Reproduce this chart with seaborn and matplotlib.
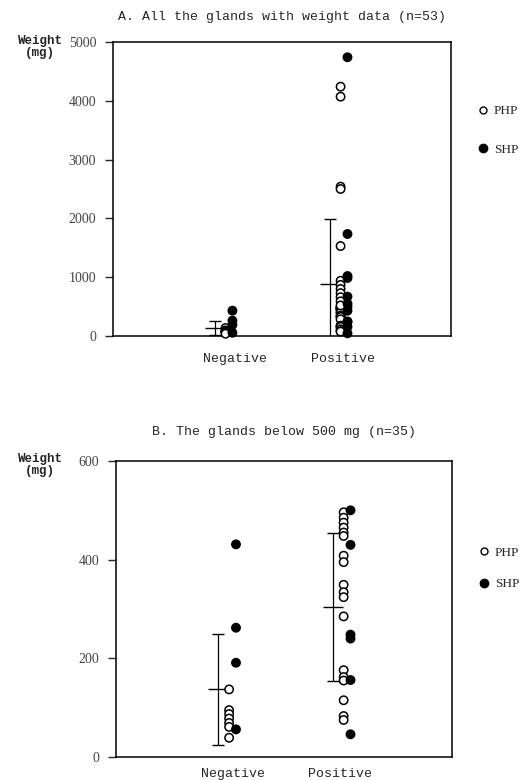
import numpy as np
import pandas as pd
import seaborn as sns
import matplotlib.pyplot as plt
from matplotlib.lines import Line2D

# categories and types
groups = ["Negative", "Positive"]
types = ["PHP", "SHP"]

# gland weights (mg)
neg_php = [137, 95, 87, 78, 69, 61, 39]
neg_shp = [431, 262, 191, 56]
pos_php_low = [496, 485, 475, 465, 455, 448, 408, 395, 349, 334, 324, 285,
               176, 162, 155, 115, 83, 75]
pos_shp_low = [500, 430, 248, 240, 156, 46]
pos_php_high = [4240, 4070, 2540, 2500, 1530, 940, 870, 800, 730, 660, 590, 520]
pos_shp_high = [4740, 1735, 1020, 986, 670, 550]

title_a = "A. All the glands with weight data (n=53)"
title_b = "B. The glands below 500 mg (n=35)"
ticks_a = [0, 1000, 2000, 3000, 4000, 5000]
ticks_b = [0, 200, 400, 600]


def make_frame(include_high):
    parts = [("Negative", "PHP", neg_php), ("Negative", "SHP", neg_shp),
             ("Positive", "PHP", pos_php_low), ("Positive", "SHP", pos_shp_low)]
    if include_high:
        parts += [("Positive", "PHP", pos_php_high), ("Positive", "SHP", pos_shp_high)]
    rows = []
    for g, t, vals in parts:
        for v in vals:
            rows.append({"group": g, "type": t, "weight": v})
    return pd.DataFrame(rows)


offsets = {"PHP": -0.03, "SHP": 0.03}
err_off = -0.125

sns.set_style("ticks")
plt.rcParams["font.family"] = ["Liberation Serif", "DejaVu Serif"]
mono = ["Liberation Mono", "DejaVu Sans Mono"]

fig = plt.figure(figsize=(5.3, 7.8), dpi=100)
ax_a = fig.add_axes([0.213, 0.5692, 0.638, 0.377])
ax_b = fig.add_axes([0.219, 0.0295, 0.634, 0.3795])


def draw(ax, df, title, yticks, xlim, xtick_pos, label_pad, title_pad,
         leg_y, leg_space, ylab_y):
    df = df.copy()
    df["xpos"] = df["group"].map({g: i for i, g in enumerate(groups)}) + df["type"].map(offsets)
    sns.scatterplot(data=df, x="xpos", y="weight", hue="type", hue_order=types,
                    palette={"PHP": "white", "SHP": "black"}, edgecolor="black",
                    linewidth=1.1, s=36, ax=ax, legend=False, clip_on=False, zorder=3)
    for i, g in enumerate(groups):
        vals = df.loc[df["group"] == g, "weight"].to_numpy()
        m = vals.mean()
        sd = vals.std()
        ax.errorbar(i + err_off, m, yerr=sd, fmt="_", ms=15, mew=1.0, capsize=4,
                    elinewidth=0.9, capthick=0.9, color="black")
    ax.set_xlim(*xlim)
    ax.set_ylim(yticks[0], yticks[-1])
    ax.set_yticks(yticks)
    ax.set_yticklabels([str(t) for t in yticks], fontsize=10, color="#444444")
    ax.set_xticks(xtick_pos)
    ax.set_xticklabels(groups, fontsize=9.5, family=mono)
    ax.tick_params(axis="x", length=0, pad=label_pad)
    ax.tick_params(axis="y", length=6, width=1, direction="out", pad=6)
    ax.set_xlabel("")
    ax.set_ylabel("")
    for sp in ax.spines.values():
        sp.set_visible(True)
        sp.set_linewidth(1.1)
        sp.set_color("black")
    ax.set_title(title, fontsize=9.5, family=mono, pad=title_pad)
    handles = [Line2D([], [], marker="o", ls="none", mfc="white", mec="black", ms=5, mew=1),
               Line2D([], [], marker="o", ls="none", mfc="black", mec="black", ms=6, mew=1)]
    ax.legend(handles, types, loc="center left", bbox_to_anchor=(1.08, leg_y),
              frameon=False, handlelength=0.8, handletextpad=0.4, borderpad=0,
              borderaxespad=0, labelspacing=leg_space, fontsize=9.5)
    fig.text(40 / 530, 1 - ylab_y / 780, "Weight\n(mg)", ha="center", va="center",
             fontsize=9, fontweight="bold", family=mono, linespacing=1.0)


draw(ax_a, make_frame(True), title_a, ticks_a, (-1.009, 1.93), [0.052, 0.991],
     12, 16, 0.699, 2.0, 47)
draw(ax_b, make_frame(False), title_b, ticks_b, (-1.017, 1.917), [0.004, 0.939],
     8, 19, 0.637, 1.45, 465)

fig.savefig("out.png", dpi=100)
